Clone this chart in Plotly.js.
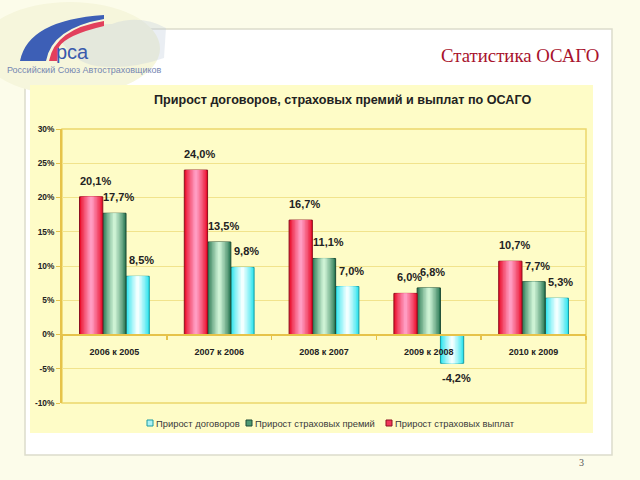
<!DOCTYPE html>
<html>
<head>
<meta charset="utf-8">
<script src="https://cdn.plot.ly/plotly-3.0.1.min.js"></script>
<style>
html,body{margin:0;padding:0;background:#fcfcea;}
#chart{width:640px;height:480px;}
</style>
</head>
<body>
<div id="chart"></div>
<script>
// ---- data ----
const categories = ['2006 к 2005', '2007 к 2006', '2008 к 2007', '2009 к 2008', '2010 к 2009'];
const payoutsGrowth = [20.1, 24.0, 16.7, 6.0, 10.7];     // Прирост страховых выплат
const premiumsGrowth = [17.7, 13.5, 11.1, 6.8, 7.7];     // Прирост страховых премий
const contractsGrowth = [8.5, 9.8, 7.0, -4.2, 5.3];      // Прирост договоров
const seriesNames = ['Прирост договоров', 'Прирост страховых премий', 'Прирост страховых выплат'];
const yTickVals = [-10, -5, 0, 5, 10, 15, 20, 25, 30];
const yTickText = ['-10%', '-5%', '0%', '5%', '10%', '15%', '20%', '25%', '30%'];

// ---- geometry helpers (pixel -> paper) ----
const L = 62, R = 586, T = 129, B = 403;
function px(x) { return (x - L) / (R - L); }
function py(y) { return (B - y) / (B - T); }
function path(s) {
  return s.replace(/(-?\d+\.?\d*),(-?\d+\.?\d*)/g, (m, a, b) => px(+a) + ',' + py(+b));
}
function hex2rgb(h) { return [1, 3, 5].map(i => parseInt(h.substr(i, 2), 16)); }
function mix(a, b, t) {
  const A = hex2rgb(a), Bc = hex2rgb(b);
  return 'rgb(' + A.map((v, i) => Math.round(v + (Bc[i] - v) * t)).join(',') + ')';
}

const barW = 0.222;
const series = [
  {name: seriesNames[0], y: contractsGrowth, off: 1, edge: '#2fe4ee', center: '#f2ffff', line: '#1b9aa2',
   legX: 150, legFill: '#aef2f4'},
  {name: seriesNames[1], y: premiumsGrowth, off: 0, edge: '#2c7a56', center: '#cdf2d4', line: '#1c4a34',
   legX: 249, legFill: '#4f9a74'},
  {name: seriesNames[2], y: payoutsGrowth, off: -1, edge: '#ea0f2c', center: '#ff9cc2', line: '#8c1020',
   legX: 389, legFill: '#f0385a'}
];

const N = 8;
const traces = [];
const annotations = [];
const shapes = [];
const txtFont = 'Liberation Sans, Arial, sans-serif';

series.forEach(s => {
  const c = s.off * barW;
  for (let k = 0; k < N; k++) {
    const w = barW * (1 - k / N);
    const t = Math.pow(k / (N - 1), 0.85);
    traces.push({
      type: 'bar',
      x: categories,
      y: s.y,
      name: s.name,
      width: w,
      offset: c - w / 2,
      marker: {color: mix(s.edge, s.center, t),
               line: {color: k === 0 ? s.line : 'rgba(0,0,0,0)', width: k === 0 ? 1 : 0}},
      showlegend: false,
      hoverinfo: 'skip'
    });
  }
  s.y.forEach((v, i) => {
    annotations.push({
      x: i + c, y: v, xref: 'x', yref: 'y',
      text: v.toFixed(1).replace('.', ',') + '%',
      showarrow: false, xshift: 4, yshift: v >= 0 ? 16 : -15,
      xanchor: 'center', yanchor: 'middle',
      font: {family: txtFont, size: 11, color: '#222', weight: 'bold'}
    });
  });
});

// legend (compact Excel-style key)
series.forEach(s => {
  shapes.push({type: 'rect', xref: 'paper', yref: 'paper',
    x0: px(s.legX - 3), x1: px(s.legX + 3), y0: py(426), y1: py(420),
    fillcolor: s.legFill, line: {color: s.line, width: 1}, layer: 'above'});
  annotations.push({xref: 'paper', yref: 'paper', x: px(s.legX + 4), y: py(423),
    xanchor: 'left', yanchor: 'middle', text: s.name, showarrow: false,
    font: {family: txtFont, size: 9.4, color: '#3a3a3a'}});
});

// page texts
annotations.push(
  {xref: 'paper', yref: 'paper', x: px(342), y: py(100), xanchor: 'center', yanchor: 'middle',
   text: 'Прирост договоров, страховых премий и выплат по ОСАГО',
   showarrow: false, font: {family: txtFont, size: 12.6, color: '#222', weight: 'bold'}},
  {xref: 'paper', yref: 'paper', x: px(601), y: py(55), xanchor: 'right', yanchor: 'middle',
   text: 'Статистика ОСАГО',
   showarrow: false, font: {family: 'Liberation Serif, Times New Roman, serif', size: 18.8, color: '#a8122c'}},
  {xref: 'paper', yref: 'paper', x: px(581), y: py(462), xanchor: 'center', yanchor: 'middle', text: '3',
   showarrow: false, font: {family: 'Liberation Serif, serif', size: 10, color: '#555'}},
  {xref: 'paper', yref: 'paper', x: px(72), y: py(52), xanchor: 'center', yanchor: 'middle', text: 'рса',
   showarrow: false, font: {family: txtFont, size: 20, color: '#3a5aac'}},
  {xref: 'paper', yref: 'paper', x: px(83.5), y: py(70), xanchor: 'center', yanchor: 'middle',
   text: 'Российский Союз Автостраховщиков',
   showarrow: false, font: {family: txtFont, size: 9, color: '#7586b2'}}
);

shapes.unshift(
  // white panel
  {type: 'rect', xref: 'paper', yref: 'paper', x0: px(25), x1: px(612), y0: py(455), y1: py(29),
   fillcolor: '#ffffff', line: {color: '#dcdccc', width: 1.5}, layer: 'below'},
  // logo glow
  {type: 'circle', xref: 'paper', yref: 'paper', x0: px(-20), x1: px(160), y0: py(95), y1: py(2),
   fillcolor: '#f6f6dc', line: {width: 0}, layer: 'below'},
  // chart area
  {type: 'rect', xref: 'paper', yref: 'paper', x0: px(30), x1: px(593), y0: py(433), y1: py(85),
   fillcolor: '#fefcc7', line: {width: 0}, layer: 'below'},
  // faint map
  {type: 'path', xref: 'paper', yref: 'paper',
   path: path('M62,42 Q78,24 112,24 Q140,14 166,28 L164,58 Q130,70 96,66 Q74,62 62,42 Z'),
   fillcolor: 'rgba(195,205,222,0.35)', line: {width: 0}, layer: 'below'},
  // blue swoosh
  {type: 'path', xref: 'paper', yref: 'paper',
   path: path('M20,61 Q28,20 104,15 L104,19 Q52,28 46,61 Z'),
   fillcolor: '#3d5fb6', line: {width: 0}, layer: 'below'},
  // red swoosh
  {type: 'path', xref: 'paper', yref: 'paper',
   path: path('M49,61 Q55,29 104,21 L104,26 Q66,35 59,47 L57,61 Z'),
   fillcolor: '#e2405c', line: {width: 0}, layer: 'below'},
  // plot area border
  {type: 'rect', xref: 'paper', yref: 'paper', x0: 0, x1: 1, y0: 0, y1: 1,
   fillcolor: 'rgba(0,0,0,0)', line: {color: '#ecd66c', width: 1.5}, layer: 'below'}
);

const layout = {
  width: 640, height: 480,
  margin: {l: L, r: 640 - R, t: T, b: 480 - B, pad: 0},
  paper_bgcolor: '#fcfcea',
  plot_bgcolor: 'rgba(0,0,0,0)',
  barmode: 'group',
  showlegend: false,
  xaxis: {
    type: 'category', anchor: 'free', position: 0.25,
    showline: true, linecolor: '#e6c34a', linewidth: 2,
    ticks: 'outside', tickson: 'boundaries', ticklen: 4, tickcolor: '#e6c34a', tickwidth: 1.5,
    ticklabelstandoff: 9,
    showgrid: false, zeroline: false,
    tickfont: {family: txtFont, size: 9, color: '#222', weight: 'bold'},
    fixedrange: true
  },
  yaxis: {
    range: [-10, 30], tickmode: 'array', tickvals: yTickVals, ticktext: yTickText,
    showline: true, linecolor: '#e6c34a', linewidth: 2,
    ticks: 'outside', ticklen: 4, tickcolor: '#e6c34a',
    showgrid: true, gridcolor: '#f1e38c', gridwidth: 1,
    zeroline: false,
    tickfont: {family: txtFont, size: 8.3, color: '#222', weight: 'bold'},
    fixedrange: true
  },
  shapes: shapes,
  annotations: annotations
};

Plotly.newPlot('chart', traces, layout, {displayModeBar: false, staticPlot: true});
</script>
</body>
</html>
